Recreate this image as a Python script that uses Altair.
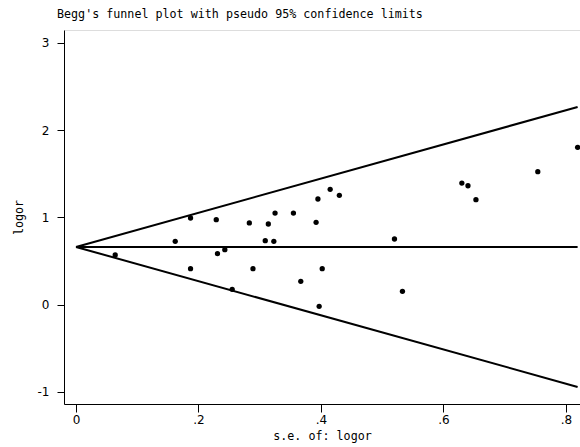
import altair as alt
import pandas as pd

# Standard errors of log odds ratios (x) and log odds ratios (y)
se = [0.064, 0.162, 0.187, 0.187, 0.229, 0.231, 0.243, 0.255, 0.283, 0.289,
      0.309, 0.314, 0.323, 0.325, 0.355, 0.367, 0.392, 0.395, 0.397, 0.402,
      0.415, 0.430, 0.520, 0.533, 0.630, 0.640, 0.653, 0.754, 0.819]
logor = [0.568, 0.725, 0.992, 0.411, 0.973, 0.583, 0.629, 0.174, 0.935, 0.411,
         0.732, 0.923, 0.725, 1.049, 1.049, 0.266, 0.942, 1.210, -0.021, 0.411,
         1.321, 1.252, 0.751, 0.151, 1.393, 1.362, 1.202, 1.523, 1.803]

pooled = 0.66  # centre line (pooled log odds ratio)
x_ticks = [0, 0.2, 0.4, 0.6, 0.8]
y_ticks = [-1, 0, 1, 2, 3]

pts = pd.DataFrame({"se": se, "logor": logor})
se_max = max(se)
lines = pd.DataFrame({
    "se": [0, se_max, 0, se_max, 0, se_max],
    "val": [pooled, pooled + 1.96 * se_max, pooled, pooled - 1.96 * se_max, pooled, pooled],
    "grp": ["upper", "upper", "lower", "lower", "mid", "mid"],
})

MONO = "DejaVu Sans Mono"
SANS = "DejaVu Sans"

xscale = alt.Scale(domain=[-0.0196, 0.8229], nice=False, zero=False)
yscale = alt.Scale(domain=[-1.141, 3.148], nice=False, zero=False)

xaxis = alt.Axis(values=x_ticks, title="s.e. of: logor", grid=False,
                 labelExpr="datum.value == 0 ? '0' : replace(format(datum.value, '.1f'), '0.', '.')",
                 domainColor="black", tickColor="black", tickSize=8, labelPadding=2,
                 labelFont=SANS, labelFontSize=12, labelColor="black",
                 titleFont=MONO, titleFontSize=11.7, titleFontWeight="normal", titleColor="black",
                 titleY=35, titleBaseline="alphabetic")
yaxis = alt.Axis(values=y_ticks, title="logor", grid=False,
                 labelExpr="datum.value < 0 ? '-' + toString(-datum.value) : toString(datum.value)",
                 domainColor="black", tickColor="black", tickSize=7, labelPadding=8,
                 labelFont=SANS, labelFontSize=12, labelColor="black",
                 titleFont=MONO, titleFontSize=11.7, titleFontWeight="normal", titleColor="black",
                 titleX=-46, titleY=187, titleAngle=270, titleBaseline="middle")

line_layer = alt.Chart(lines).mark_line(color="black", strokeWidth=2, clip=True).encode(
    x=alt.X("se:Q", scale=xscale, axis=xaxis),
    y=alt.Y("val:Q", scale=yscale, axis=yaxis),
    detail="grp:N",
)
pt_layer = alt.Chart(pts).mark_circle(color="black", size=28, opacity=1).encode(
    x=alt.X("se:Q", scale=xscale),
    y=alt.Y("logor:Q", scale=yscale),
)

chart = alt.layer(line_layer, pt_layer).properties(
    width=516, height=374,
    autosize=alt.AutoSizeParams(type="none"),
    padding={"left": 64, "top": 30, "right": 0, "bottom": 43},
    title=alt.TitleParams("Begg's funnel plot with pseudo 95% confidence limits",
                          anchor="start", frame="group", dx=-7, offset=0, baseline="alphabetic",
                          font=MONO, fontSize=11.7, fontWeight="normal", color="black"),
).configure_view(stroke=None).configure(background="white")

chart.save("out.html", embed_options={"renderer": "svg", "actions": False})
